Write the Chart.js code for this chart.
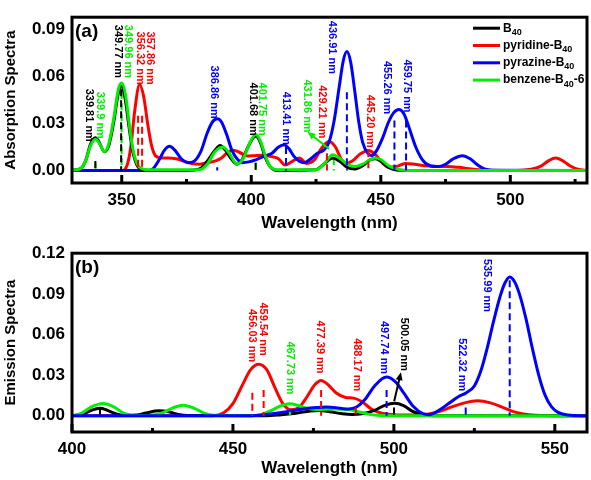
<!DOCTYPE html>
<html>
<head>
<meta charset="utf-8">
<script src="https://cdn.jsdelivr.net/npm/chart.js@4.4.1/dist/chart.umd.min.js"></script>
<style>
  html, body { margin: 0; padding: 0; background: #fff; }
  #wrap { position: relative; width: 591px; height: 480px; }
  canvas { position: absolute; left: 0; }
  #absChart { top: 0; }
  #emiChart { top: 236px; }
</style>
</head>
<body>
<div id="wrap">
  <canvas id="absChart" width="591" height="236"></canvas>
  <canvas id="emiChart" width="591" height="244"></canvas>
</div>
<script>
// ---------- panel (a) absorption ----------
const absYTicks = [0, 0.03, 0.06, 0.09];
const absXTicks = [350, 375, 400, 425, 450, 475, 500, 525];
const absXMajor = [350, 400, 450, 500];

// [wavelength, intensity]
const absB40 = [[330,0],[334,0.001],[336,0.006],[338,0.017],[339.8,0.021],[341,0.019],[343.3,0.012],[345,0.016],[347,0.032],[348.5,0.048],[349.8,0.054],[351.3,0.046],[352.8,0.028],[354.3,0.012],[356,0.003],[358,0.0005],[360,0],[375,0],[380,0.001],[383,0.006],[386,0.013],[388,0.016],[390,0.013],[392.5,0.007],[394.5,0.004],[396.5,0.007],[399,0.016],[401.7,0.022],[403.5,0.018],[405.5,0.008],[407.5,0.002],[410,0],[425,0.0005],[428,0.004],[431.5,0.008],[434,0.006],[437,0.002],[440,0.001],[443,0.003],[446,0.007],[448,0.0075],[450,0.006],[453,0.002],[456,0.0003],[460,0],[530,0]];
const absPyridine = [[330,0],[350,0],[352,0.003],[353.5,0.015],[355,0.038],[356.9,0.055],[358.5,0.047],[360,0.03],[361.5,0.016],[363,0.0095],[365.5,0.008],[368,0.008],[371,0.0075],[374,0.006],[377,0.0045],[380,0.004],[383,0.005],[386,0.006],[388.5,0.008],[390.5,0.011],[392.7,0.013],[395,0.012],[398.5,0.0093],[401,0.0095],[404.5,0.0098],[407.5,0.009],[410.5,0.0075],[413,0.0035],[416,0.006],[418.5,0.008],[421.5,0.0045],[424.5,0.007],[427,0.014],[430,0.0185],[432.5,0.015],[434.5,0.008],[436.5,0.0045],[439,0.006],[442,0.0105],[445.3,0.0128],[448,0.01],[450.5,0.005],[453,0.002],[456,0.0025],[459.5,0.0045],[463,0.004],[467,0.003],[472,0.0025],[476,0.0025],[480,0.002],[485,0.001],[490,0.0003],[500,0],[508,0.0008],[512,0.003],[515,0.0065],[517.5,0.008],[520,0.0065],[523,0.003],[526,0.0008],[530,0]];
const absPyrazine = [[330,0],[360,0],[362,0.001],[364.5,0.007],[366.5,0.013],[368.5,0.0155],[370.5,0.013],[373,0.0075],[375.5,0.005],[378,0.006],[380.5,0.012],[383,0.024],[385,0.031],[386.9,0.033],[388.5,0.031],[390.5,0.023],[392.5,0.013],[394.5,0.0075],[396.7,0.005],[399,0.0055],[402,0.007],[405.5,0.0095],[408,0.011],[410.5,0.015],[412.7,0.0165],[414.5,0.014],[416.5,0.009],[418.5,0.006],[420.5,0.005],[423,0.0075],[425.5,0.011],[428,0.013],[430,0.018],[432,0.032],[434,0.054],[435.5,0.07],[436.9,0.076],[438.4,0.069],[440,0.05],[441.5,0.031],[443,0.018],[445,0.011],[446.5,0.0095],[448.5,0.013],[450.5,0.02],[453,0.031],[455,0.037],[457,0.039],[459,0.036],[461,0.027],[463.5,0.015],[466,0.007],[469,0.003],[472,0.0025],[475,0.004],[478,0.0075],[481.5,0.0095],[484.5,0.0075],[487,0.004],[490,0.001],[493,0.0002],[530,0]];
const absBenzene = [[330,0],[334,0.001],[336,0.006],[338,0.016],[339.9,0.02],[341.5,0.017],[343.3,0.012],[345,0.017],[347,0.034],[348.7,0.052],[350,0.056],[351.5,0.048],[353,0.028],[354.5,0.012],[356,0.004],[358,0.001],[360,0.0005],[380,0.0005],[383,0.004],[386,0.012],[389,0.015],[391.5,0.011],[394.5,0.004],[397,0.008],[399.5,0.018],[401.75,0.023],[403.5,0.019],[405.5,0.009],[407.5,0.002],[410,0.0005],[425,0.0005],[428,0.004],[431.5,0.01],[434,0.008],[437,0.004],[440,0.0025],[443,0.004],[446,0.007],[448,0.008],[450,0.007],[453,0.003],[456,0.001],[460,0],[530,0]];

// stick transitions [wavelength, height]
const absStickB40 = [[339.81,0.006],[349.77,0.052],[401.68,0.005]];
const absStickPyridine = [[356.32,0.035],[357.86,0.035],[429.21,0.011],[445.20,0.013]];
const absStickPyrazine = [[386.86,0.002],[413.41,0.015],[436.91,0.05],[455.26,0.032],[459.75,0.032]];
const absStickBenzene = [[339.9,0.005],[349.96,0.05],[401.75,0.005],[431.86,0.008]];

// ---------- panel (b) emission ----------
const emiYTicks = [0, 0.03, 0.06, 0.09, 0.12];
const emiXTicks = [400, 425, 450, 475, 500, 525, 550];
const emiXMajor = [400, 450, 500, 550];

const emiB40 = [[400,0],[403,0.0008],[406,0.004],[408.7,0.0055],[411,0.004],[414,0.0012],[417,0.0003],[420,0.0005],[423,0.002],[427,0.0036],[430,0.003],[433,0.001],[436,0.0002],[460,0],[465,0.0008],[470,0.002],[474,0.0035],[477,0.0038],[480,0.003],[484,0.0015],[487,0.001],[490,0.0015],[494,0.004],[497,0.0075],[500.3,0.0092],[503,0.0075],[506,0.003],[509,0.0008],[512,0],[560,0]];
const emiPyridine = [[400,0],[444,0],[447,0.002],[450,0.009],[453,0.023],[455.5,0.034],[458,0.038],[460.5,0.034],[463,0.021],[465.5,0.009],[468,0.0045],[470.5,0.006],[473,0.014],[475.5,0.023],[477.4,0.026],[479.5,0.023],[482,0.017],[485,0.0135],[487.5,0.013],[490,0.0105],[493,0.005],[496,0.002],[500,0.0008],[505,0.0005],[510,0.001],[514,0.003],[518,0.0065],[522,0.0095],[526,0.011],[530,0.0095],[534,0.006],[538,0.0025],[542,0.0008],[546,0.0002],[560,0]];
const emiPyrazine = [[400,0],[455,0],[460,0.0008],[464,0.002],[468,0.0035],[472,0.005],[476,0.006],[479,0.0064],[482,0.006],[485,0.005],[488,0.006],[491,0.012],[494,0.022],[497.7,0.0286],[500.5,0.025],[503,0.017],[506,0.007],[509,0.0015],[511,0.0008],[514,0.004],[517,0.009],[520,0.014],[522.5,0.017],[525,0.022],[527,0.033],[529,0.05],[531,0.07],[533,0.088],[534.5,0.098],[536,0.1025],[537.5,0.099],[539,0.09],[541,0.072],[543,0.05],[545,0.03],[547,0.015],[549,0.0065],[551,0.0025],[554,0.0005],[560,0]];
const emiBenzene = [[400,0],[403,0.002],[406,0.0065],[409.7,0.009],[413,0.0065],[416,0.002],[419,0.0003],[424,0.0002],[428,0.002],[431,0.0055],[434.5,0.0077],[438,0.0055],[441,0.002],[444,0.0003],[455,0],[459,0.001],[462,0.004],[465,0.0075],[467.7,0.0088],[470,0.0078],[473,0.0055],[477,0.0045],[481,0.005],[485,0.0048],[489,0.003],[492,0.0012],[495,0.0003],[500,0],[560,0]];

const emiStickB40 = [[408.7,0.006],[500.05,0.006]];
const emiStickPyridine = [[456.03,0.017],[459.54,0.019],[477.39,0.019],[488.17,0.006]];
const emiStickPyrazine = [[497.74,0.019],[522.32,0.006],[535.99,0.1]];
const emiStickBenzene = [[467.73,0.003]];

// ---------- annotations: [text, series, wavelength, top value] ----------
const absNotes = [
  ['339.81 nm','b40',337.4,0.0523], ['339.9 nm','benzene',341.8,0.0503],
  ['349.77 nm','b40',348.6,0.0931], ['349.96 nm','benzene',352.4,0.0931],
  ['356.32 nm','pyridine',356.9,0.0888], ['357.86 nm','pyridine',360.8,0.0888],
  ['386.86 nm','pyrazine',385.8,0.0671], ['401.68 nm','b40',400.5,0.0562],
  ['401.75 nm','benzene',404.3,0.0562], ['413.41 nm','pyrazine',413.3,0.0503],
  ['431.86 nm','benzene',421.7,0.0582], ['429.21 nm','pyridine',427.4,0.0545],
  ['436.91 nm','pyrazine',431.3,0.0957], ['445.20 nm','pyridine',446.0,0.0485],
  ['455.26 nm','pyrazine',452.4,0.070], ['459.75 nm','pyrazine',460.1,0.071]
];
const emiNotes = [
  ['456.03 nm','pyridine',456.0,0.0788], ['459.54 nm','pyridine',459.3,0.0836],
  ['467.73 nm','benzene',467.6,0.0549], ['477.39 nm','pyridine',477.1,0.0704],
  ['488.17 nm','pyridine',488.7,0.0573], ['497.74 nm','pyrazine',497.0,0.070],
  ['500.05 nm','b40',503.2,0.0723], ['522.32 nm','pyrazine',521.3,0.0573],
  ['535.99 nm','pyrazine',529.0,0.1158]
];
// arrows: [series, from wl, from value, to wl, to value]
const absArrows = [['benzene',430,0.0138,421.7,0.0247]];
const emiArrows = [['b40',500.1,0.0107,502.2,0.0322]];

const legendNames = [['b40','B','40',''],['pyridine','pyridine-B','40',''],['pyrazine','pyrazine-B','40',''],['benzene','benzene-B','40','-6']];

const COLORS = { b40: '#000000', pyridine: '#ff0000', pyrazine: '#0000ff', benzene: '#00ee00' };
const FONT = 'Liberation Sans, Arial, sans-serif';

Chart.defaults.font.family = FONT;
Chart.defaults.color = '#000';

function curve(points, key, order) {
    return {
        data: points.map(p => ({x: p[0], y: p[1]})),
        borderColor: COLORS[key],
        borderWidth: 3,
        pointRadius: 0,
        cubicInterpolationMode: 'monotone',
        fill: false,
        order: order
    };
}

function sticks(list, key, order) {
    const data = [];
    list.forEach(([wl, h]) => {
        data.push({x: wl, y: h}, {x: wl, y: 0}, {x: wl, y: null});
    });
    return {
        data: data,
        borderColor: COLORS[key],
        borderWidth: 2,
        borderDash: [7, 4],
        pointRadius: 0,
        tension: 0,
        spanGaps: false,
        order: order
    };
}

function drawArrow(ctx, x0, y0, x1, y1, color) {
    const ang = Math.atan2(y1 - y0, x1 - x0);
    const L = 8, W = 3.5;
    ctx.strokeStyle = color;
    ctx.fillStyle = color;
    ctx.lineWidth = 2;
    ctx.beginPath();
    ctx.moveTo(x0, y0);
    ctx.lineTo(x1 - L * 0.6 * Math.cos(ang), y1 - L * 0.6 * Math.sin(ang));
    ctx.stroke();
    ctx.beginPath();
    ctx.moveTo(x1, y1);
    ctx.lineTo(x1 - L * Math.cos(ang) + W * Math.sin(ang), y1 - L * Math.sin(ang) - W * Math.cos(ang));
    ctx.lineTo(x1 - L * Math.cos(ang) - W * Math.sin(ang), y1 - L * Math.sin(ang) + W * Math.cos(ang));
    ctx.closePath();
    ctx.fill();
}

// frame, inner ticks, rotated peak labels, arrows, panel tag, legend
const decorPlugin = {
    id: 'decor',
    afterDraw(chart, args, opts) {
        const {ctx, chartArea: a, scales: {x, y}} = chart;
        ctx.save();

        // peak labels
        ctx.font = 'bold 11px ' + FONT;
        ctx.textAlign = 'left';
        ctx.textBaseline = 'middle';
        opts.notes.forEach(([text, key, wl, top]) => {
            ctx.save();
            ctx.translate(x.getPixelForValue(wl), y.getPixelForValue(top));
            ctx.rotate(Math.PI / 2);
            ctx.fillStyle = COLORS[key];
            ctx.fillText(text, 0, 0);
            ctx.restore();
        });

        opts.arrows.forEach(([key, w0, v0, w1, v1]) => {
            drawArrow(ctx, x.getPixelForValue(w0), y.getPixelForValue(v0),
                x.getPixelForValue(w1), y.getPixelForValue(v1), COLORS[key]);
        });

        // frame
        ctx.strokeStyle = '#000';
        ctx.lineWidth = 3;
        ctx.strokeRect(a.left, a.top, a.right - a.left, a.bottom - a.top);
        x.ticks.forEach(t => {
            const px = x.getPixelForValue(t.value);
            const len = opts.majors.includes(t.value) ? 8 : 4;
            ctx.beginPath();
            ctx.moveTo(px, a.bottom);
            ctx.lineTo(px, a.bottom - len);
            ctx.stroke();
        });

        // panel tag
        ctx.fillStyle = '#000';
        ctx.font = 'bold 19px ' + FONT;
        ctx.textAlign = 'left';
        ctx.textBaseline = 'middle';
        ctx.fillText(opts.tag, a.left + 3, a.top + 15);

        if (opts.legend) {
            legendNames.forEach(([key, main, sub, tail], i) => {
                const ly = a.top + 11 + i * 17.3;
                ctx.strokeStyle = COLORS[key];
                ctx.lineWidth = 3;
                ctx.beginPath();
                ctx.moveTo(473, ly);
                ctx.lineTo(500, ly);
                ctx.stroke();
                ctx.fillStyle = '#000';
                ctx.font = 'bold 12px ' + FONT;
                ctx.textBaseline = 'middle';
                let tx = 503;
                ctx.fillText(main, tx, ly);
                tx += ctx.measureText(main).width;
                ctx.font = 'bold 9px ' + FONT;
                ctx.fillText(sub, tx, ly + 4);
                tx += ctx.measureText(sub).width;
                ctx.font = 'bold 12px ' + FONT;
                ctx.fillText(tail, tx, ly);
            });
        }
        ctx.restore();
    }
};

function makeOptions(cfg) {
    return {
        responsive: false,
        animation: false,
        events: [],
        layout: { padding: cfg.padding },
        plugins: {
            legend: { display: false },
            tooltip: { enabled: false },
            decor: cfg.decor
        },
        scales: {
            x: {
                type: 'linear',
                min: cfg.xMin,
                max: cfg.xMax,
                grid: { display: false, drawTicks: false },
                border: { display: false },
                afterBuildTicks: s => { s.ticks = cfg.xTicks.map(v => ({value: v})); },
                afterFit: s => { s.height = cfg.xHeight; },
                ticks: {
                    padding: 7,
                    maxRotation: 0,
                    autoSkip: false,
                    font: { size: 17, weight: 'bold' },
                    callback: v => cfg.xMajor.includes(v) ? String(v) : ''
                },
                title: {
                    display: true,
                    text: 'Wavelength (nm)',
                    font: { size: 17, weight: 'bold' },
                    padding: { top: 0, bottom: cfg.titlePad }
                }
            },
            y: {
                min: cfg.yMin,
                max: cfg.yMax,
                grid: { display: false, drawTicks: false },
                border: { display: false },
                afterBuildTicks: s => { s.ticks = cfg.yTicks.map(v => ({value: v})); },
                afterFit: s => { s.width = 72; },
                ticks: {
                    padding: 7,
                    font: { size: 17, weight: 'bold' },
                    callback: v => v.toFixed(2)
                },
                title: {
                    display: true,
                    text: cfg.yTitle,
                    font: { size: 15, weight: 'bold' },
                    padding: { top: 2, bottom: 0 }
                }
            }
        }
    };
}

new Chart(document.getElementById('absChart'), {
    type: 'line',
    data: {
        datasets: [
            sticks(absStickB40, 'b40', 0),
            sticks(absStickPyridine, 'pyridine', 0),
            sticks(absStickPyrazine, 'pyrazine', 0),
            sticks(absStickBenzene, 'benzene', 6),
            curve(absPyridine, 'pyridine', 4),
            curve(absPyrazine, 'pyrazine', 3),
            curve(absB40, 'b40', 2),
            curve(absBenzene, 'benzene', 1)
        ]
    },
    options: makeOptions({
        padding: { left: 0, right: 4, top: 4, bottom: 0 },
        xMin: 330.8, xMax: 529.6, xTicks: absXTicks, xMajor: absXMajor, xHeight: 53, titlePad: 2,
        yMin: -0.008, yMax: 0.098, yTicks: absYTicks, yTitle: 'Absorption Spectra',
        decor: { notes: absNotes, arrows: absArrows, majors: absXMajor, tag: '(a)', legend: true }
    }),
    plugins: [decorPlugin]
});

new Chart(document.getElementById('emiChart'), {
    type: 'line',
    data: {
        datasets: [
            sticks(emiStickB40, 'b40', 0),
            sticks(emiStickPyridine, 'pyridine', 0),
            sticks(emiStickPyrazine, 'pyrazine', 0),
            sticks(emiStickBenzene, 'benzene', 0),
            curve(emiPyridine, 'pyridine', 4),
            curve(emiB40, 'b40', 3),
            curve(emiBenzene, 'benzene', 2),
            curve(emiPyrazine, 'pyrazine', 1)
        ]
    },
    options: makeOptions({
        padding: { left: 0, right: 4, top: 11, bottom: 0 },
        xMin: 400, xMax: 560, xTicks: emiXTicks, xMajor: emiXMajor, xHeight: 48, titlePad: 1,
        yMin: -0.012, yMax: 0.12, yTicks: emiYTicks, yTitle: 'Emission Spectra',
        decor: { notes: emiNotes, arrows: emiArrows, majors: emiXMajor, tag: '(b)', legend: false }
    }),
    plugins: [decorPlugin]
});
</script>
</body>
</html>
